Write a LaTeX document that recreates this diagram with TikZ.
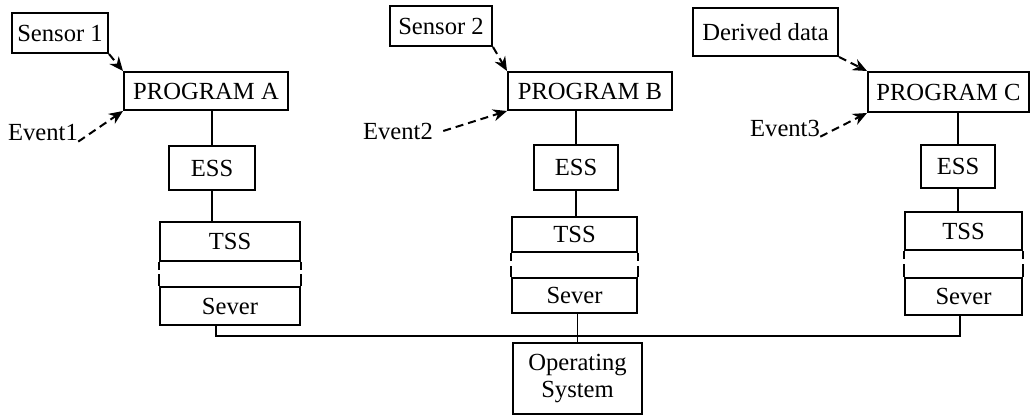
\documentclass[tikz,border=0pt]{standalone}
\usepackage{fontspec}
\setmainfont{Liberation Serif}
\usetikzlibrary{positioning, calc, arrows.meta}

\begin{document}
\begin{tikzpicture}[x=0.5pt, y=-0.5pt,
  caixa/.style={draw, line width=1pt, inner sep=0pt, font=\fontsize{12.3}{13.5}\selectfont},
  rotulo/.style={inner sep=0pt, font=\fontsize{12.3}{13.5}\selectfont},
  seta/.style={dash pattern=on 4pt off 2.5pt, line width=1pt, -{Stealth[length=7pt, width=6pt]}},
  linha/.style={line width=0.9pt}]
\useasboundingbox (0,0) rectangle (1031,416);

% LAYER 1: Entradas (sensores e dados)
\node[caixa, minimum width=48pt, minimum height=20pt] (sensA) at (60,33) {Sensor 1};
\node[caixa, minimum width=51pt, minimum height=20pt] (sensB) at (441,26) {Sensor 2};
\node[caixa, minimum width=72.5pt, minimum height=24pt] (sensC) at (765.5,32) {Derived data};

% LAYER 2: Programas
\node[caixa, minimum width=82pt, minimum height=19pt] (progA) at (206,91) {PROGRAM A};
\node[caixa, minimum width=82pt, minimum height=19pt] (progB) at (590,91) {PROGRAM B};
\node[caixa, minimum width=80.5pt, minimum height=20pt] (progC) at (948.5,92) {PROGRAM C};

% LAYER 3: Eventos
\node[rotulo] (evA) at (43,133) {Event1};
\node[rotulo] (evB) at (398,131) {Event2};
\node[rotulo] (evC) at (785,128) {Event3};

% LAYER 4: Pilhas ESS / TSS / Sever
\node[caixa, minimum width=43pt, minimum height=22pt] (essA) at (212,168) {ESS};
\node[caixa, minimum width=70pt, minimum height=19.5pt] (tssA) at (230,241.5) {TSS};
\node[caixa, minimum width=70pt, minimum height=19pt] (sevA) at (230,306) {Sever};

\node[caixa, minimum width=42pt, minimum height=22.5pt] (essB) at (576,167.5) {ESS};
\node[caixa, minimum width=62.5pt, minimum height=17.5pt] (tssB) at (574.5,234.5) {TSS};
\node[caixa, minimum width=62.5pt, minimum height=17.5pt] (sevB) at (574.5,295.5) {Sever};

\node[caixa, minimum width=37pt, minimum height=21.5pt] (essC) at (958,166.5) {ESS};
\node[caixa, minimum width=58.5pt, minimum height=19pt] (tssC) at (963.5,231) {TSS};
\node[caixa, minimum width=58.5pt, minimum height=18.5pt] (sevC) at (963.5,296.5) {Sever};

% LAYER 5: Sistema operacional
\node[caixa, minimum width=64.5pt, minimum height=35.5pt, align=center] (osys) at (577.5,378.5) {Operating\\System};

% LAYER 6: Setas tracejadas
\draw[seta] (sensA.south east) -- (progA.north west);
\draw[seta] (sensB.south east) -- (progB.north west);
\draw[seta] (sensC.south east) -- (progC.north west);
\draw[seta] (evA.south east) -- (progA.south west);
\draw[seta] ([xshift=5pt]evB.east) -- (progB.south west);
\draw[seta] (evC.south east) -- (progC.south west);

% LAYER 7: Ligacoes
\draw[linha] (essA.north) -- (essA.north |- progA.south);
\draw[linha] (essA.south) -- (essA.south |- tssA.north);
\draw[linha] (essB.north) -- (essB.north |- progB.south);
\draw[linha] (essB.south) -- (essB.south |- tssB.north);
\draw[linha] (essC.north) -- (essC.north |- progC.south);
\draw[linha] (essC.south) -- (essC.south |- tssC.north);

% pedacos laterais entre TSS e Sever
\draw[linha] (tssA.south west) -- ++(0,8) (tssA.south east) -- ++(0,8);
\draw[linha] (sevA.north west) -- ++(0,-12) (sevA.north east) -- ++(0,-12);
\draw[linha] (tssB.south west) -- ++(0,8) (tssB.south east) -- ++(0,8);
\draw[linha] (sevB.north west) -- ++(0,-11) (sevB.north east) -- ++(0,-11);
\draw[linha] (tssC.south west) -- ++(0,8) (tssC.south east) -- ++(0,8);
\draw[linha] (sevC.north west) -- ++(0,-13) (sevC.north east) -- ++(0,-13);

% barramento
\coordinate (busA) at (216,336);
\coordinate (busC) at (960,336);
\draw[linha] (sevA.south -| busA) -- (busA) -- (busC) -- (sevC.south -| busC);
\draw[linha] (sevB.south -| osys.north) -- (osys.north);
\end{tikzpicture}
\end{document}
